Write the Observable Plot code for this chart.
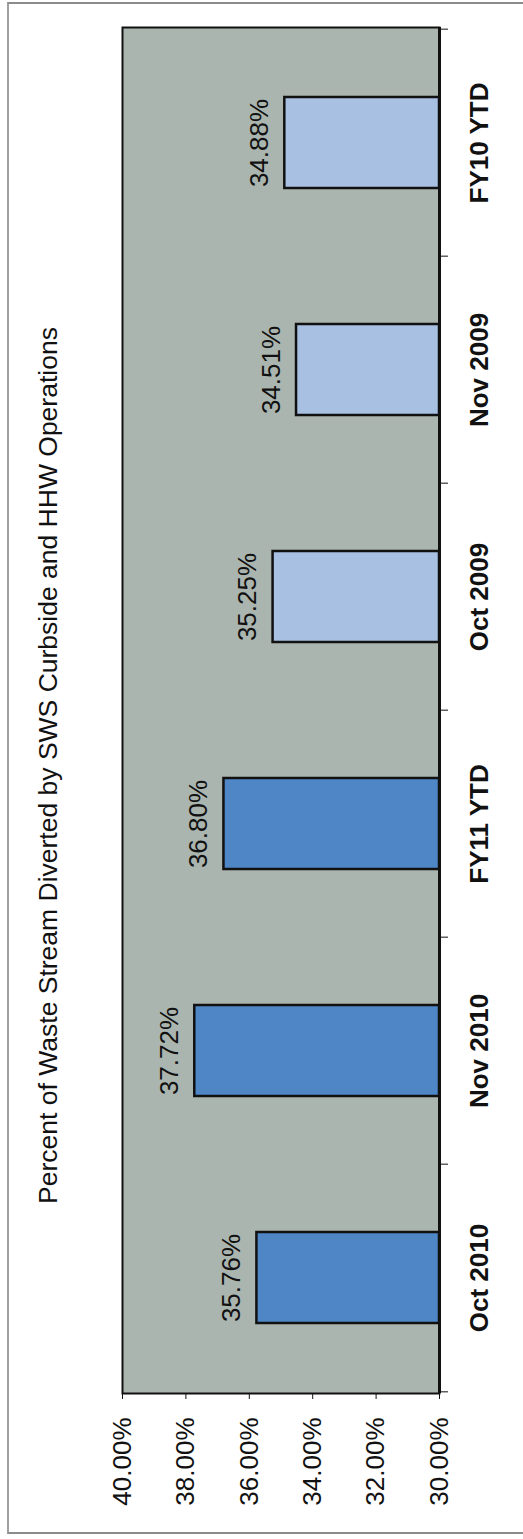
<!DOCTYPE html>
<html>
<head>
<meta charset="utf-8">
<script src="https://cdn.jsdelivr.net/npm/d3@7"></script>
<script src="https://cdn.jsdelivr.net/npm/@observablehq/plot@0.6"></script>
<style>
  html, body { margin: 0; padding: 0; background: #ffffff; }
  #wrap { position: relative; width: 523px; height: 1539px; overflow: hidden; }
  #border { position: absolute; left: 7px; top: 2px; width: 530px; height: 1532px;
            border-left: 2px solid #a0a0a0; border-top: 2px solid #8c8c8c; border-bottom: 2px solid #8c8c8c; box-sizing: border-box; }
  #chart { position: absolute; left: 0; top: 0; }
  svg { font-family: "Liberation Sans", Arial, sans-serif; }
</style>
</head>
<body>
<div id="wrap"><div id="border"></div><div id="chart"></div></div>
<script>
const title = "Percent of Waste Stream Diverted by SWS Curbside and HHW Operations";
const categories = ["Oct 2010", "Nov 2010", "FY11 YTD", "Oct 2009", "Nov 2009", "FY10 YTD"];
const values = [35.76, 37.72, 36.80, 35.25, 34.51, 34.88];
const periods = ["FY2011", "FY2011", "FY2011", "FY2010", "FY2010", "FY2010"];
const xTicks = [30, 32, 34, 36, 38, 40];

const data = categories.map((c, i) => ({cat: c, value: values[i], period: periods[i]}));
const fmt = v => v.toFixed(2) + "%";

const W = 523, H = 1539;
const mT = 27, mB = 146, mL = 122, mR = 84;
const step = (H - mT - mB) / categories.length;

const chart = Plot.plot({
  width: W,
  height: H,
  marginTop: mT,
  marginBottom: mB,
  marginLeft: mL,
  marginRight: mR,
  style: {background: "transparent", fontFamily: "'Liberation Sans', Arial, sans-serif", color: "#000"},
  x: {domain: [30, 40], reverse: true},
  y: {domain: categories.slice().reverse(), paddingInner: 0.6, paddingOuter: 0.3},
  color: {domain: ["FY2011", "FY2010"], range: ["#4f86c6", "#a8c1e2"]},
  marks: [
    Plot.frame({fill: "#abb5af", stroke: "#111", strokeWidth: 2}),
    Plot.barX(data, {x1: 30, x2: "value", y: "cat", fill: "period", stroke: "#111", strokeWidth: 2.5}),
    Plot.text(data, {x: "value", y: "cat", text: d => fmt(d.value), rotate: -90, dx: -25, fontSize: 26, fill: "#111"}),
    Plot.ruleX([30], {stroke: "#111", strokeWidth: 3}),
    Plot.axisX(xTicks, {anchor: "bottom", tickSize: 6, tickPadding: 18, tickRotate: -90, tickFormat: fmt, fontSize: 26, label: null, stroke: "#111", fill: "#111"}),
    Plot.axisY({anchor: "right", tickSize: 8, tickFormat: () => "", label: null, dy: -step / 2, stroke: "#111"}),
    Plot.axisY([categories[0]], {anchor: "right", tickSize: 8, tickFormat: () => "", label: null, dy: step / 2, stroke: "#111"}),
    Plot.text(categories, {y: d => d, frameAnchor: "right", textAnchor: "middle", dx: 40, rotate: -90, fontSize: 26, fontWeight: "bold", fill: "#111"}),
    Plot.text([title], {frameAnchor: "left", textAnchor: "middle", dx: -74, dy: 55, rotate: -90, fontSize: 26.5, fill: "#111"})
  ]
});
document.getElementById("chart").appendChild(chart);
</script>
</body>
</html>
